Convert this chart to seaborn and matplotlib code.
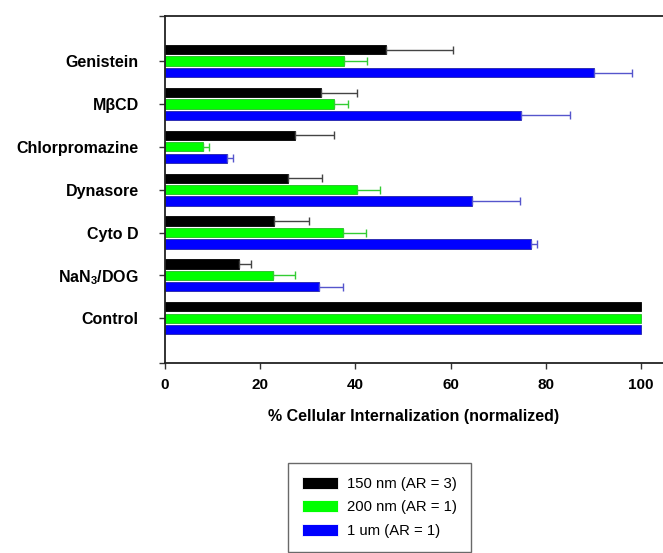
import numpy as np
import pandas as pd
import seaborn as sns
import matplotlib.pyplot as plt

# данные
treatments = ['Genistein', 'MβCD', 'Chlorpromazine', 'Dynasore', 'Cyto D',
              'NaN$_3$/DOG', 'Control']
sizes = ['150 nm (AR = 3)', '200 nm (AR = 1)', '1 um (AR = 1)']
mean_150 = [46.5, 32.8, 27.2, 25.8, 22.9, 15.6, 100.0]
mean_200 = [37.5, 35.4, 7.9, 40.4, 37.3, 22.6, 100.0]
mean_1um = [90.0, 74.8, 13.1, 64.5, 76.9, 32.4, 100.0]
err_150 = [13.9, 7.6, 8.2, 7.2, 7.3, 2.4, 0.0]
err_200 = [5.0, 3.1, 1.4, 4.7, 4.9, 4.7, 0.0]
err_1um = [8.0, 10.3, 1.1, 10.1, 1.3, 4.9, 0.0]

bar_colors = ['#000000', '#00ff00', '#0000ff']
edge_colors = ['#000000', '#22bb22', '#2222aa']
err_colors = ['#444444', '#33cc33', '#5555cc']

df = pd.DataFrame({
    'treatment': treatments * 3,
    'size': np.repeat(sizes, len(treatments)),
    'value': mean_150 + mean_200 + mean_1um,
})
errors = [err_150, err_200, err_1um]

sns.set_style('ticks', rc={'text.color': 'black', 'xtick.color': 'black',
                           'ytick.color': 'black', 'axes.labelcolor': 'black'})
plt.rcParams['font.family'] = ['Liberation Sans', 'DejaVu Sans']
plt.rcParams['mathtext.fontset'] = 'custom'
plt.rcParams['mathtext.rm'] = 'Liberation Sans:bold'
plt.rcParams['mathtext.default'] = 'rm'

fig = plt.figure(figsize=(6.63, 5.53), dpi=100)
ax = fig.add_axes([0.249, 0.344, 0.751, 0.6276])

sns.barplot(data=df, y='treatment', x='value', hue='size', palette=bar_colors,
            saturation=1, orient='h', width=0.8, gap=0.19, ax=ax, linewidth=0.6)

# обводка и односторонние планки погрешностей
for cont, ec, errc, err in zip(ax.containers, edge_colors, err_colors, errors):
    xs, ys, es = [], [], []
    for patch, e in zip(cont.patches, err):
        patch.set_edgecolor(ec)
        if e > 0:
            xs.append(patch.get_width())
            ys.append(patch.get_y() + patch.get_height() / 2)
            es.append(e)
    ax.errorbar(xs, ys, xerr=[np.zeros(len(es)), es], fmt='none',
                ecolor=errc, elinewidth=1.0, capsize=3, capthick=1.0)

ax.set_xlim(0, 104.6)
ax.set_ylim(7.04, -1.06)
ax.set_xticks([0, 20, 40, 60, 80, 100])
ax.set_xticklabels(['0', '20', '40', '60', '80', '100'], fontsize=11,
                   fontweight='bold')
ax.set_yticks([-1.06] + list(range(len(treatments))) + [7.04])
ax.set_yticklabels([''] + treatments + [''], fontsize=11.5, fontweight='bold')
ax.tick_params(axis='both', direction='out', length=4, width=1.0,
               color='#333333')
ax.tick_params(axis='x', pad=7)
ax.tick_params(axis='y', pad=15)
ax.set_xlabel('% Cellular Internalization (normalized)', fontsize=11.5,
              fontweight='bold', labelpad=12)
ax.set_ylabel('')

for side in ['left', 'top', 'bottom']:
    ax.spines[side].set_linewidth(1.3)
    ax.spines[side].set_color('#222222')
ax.spines['right'].set_visible(False)

sns.move_legend(ax, 'upper left', bbox_to_anchor=(288 / 663, 1 - 463 / 553),
                bbox_transform=fig.transFigure, title=None, frameon=True,
                fancybox=False, edgecolor='#444444', fontsize=10.7,
                handlelength=2.4, handleheight=0.85, labelspacing=0.62,
                borderpad=0.95, handletextpad=0.6, borderaxespad=0)
ax.get_legend().get_frame().set_linewidth(1.0)

fig.savefig('out.png', dpi=100)
